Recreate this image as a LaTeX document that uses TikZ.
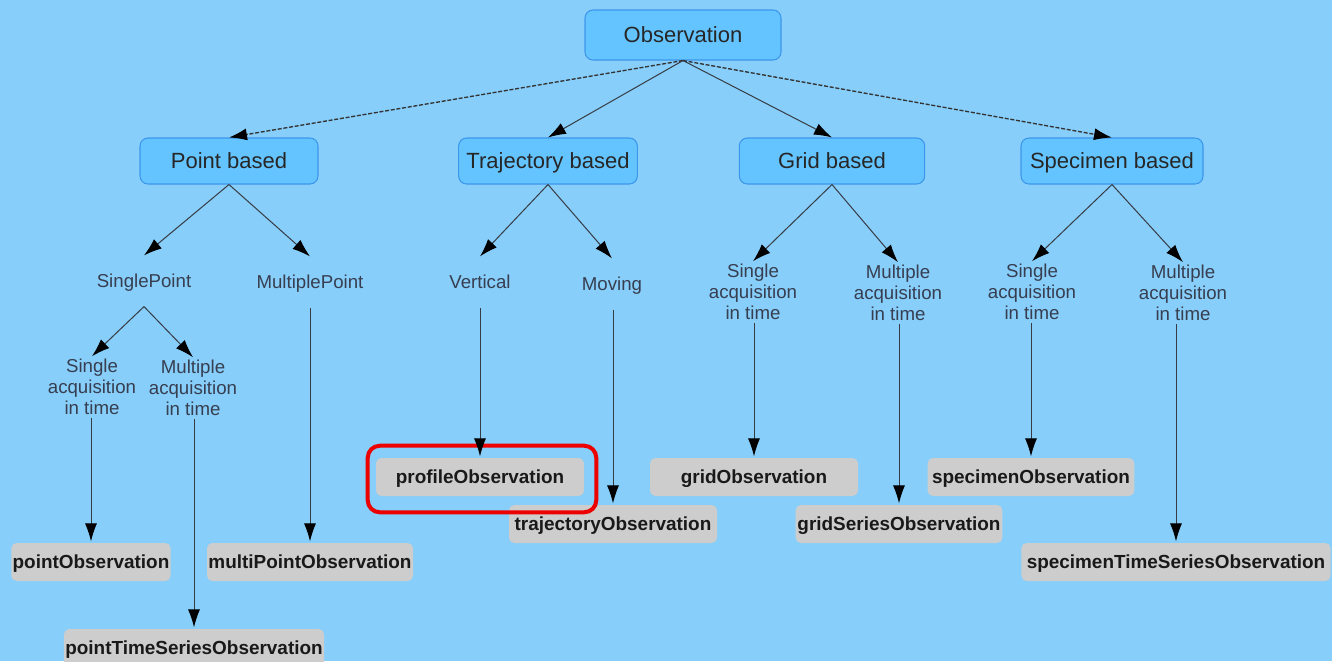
\documentclass[tikz,border=0pt]{standalone}
\usepackage{fontspec}
\setmainfont{Liberation Sans}
\usetikzlibrary{arrows.meta}

\definecolor{bgblue}{RGB}{135,206,250}
\definecolor{boxblue}{RGB}{100,196,255}
\definecolor{boxline}{RGB}{62,150,235}
\definecolor{leafgray}{RGB}{205,205,205}
\definecolor{labelgray}{RGB}{55,62,80}
\definecolor{edgegray}{RGB}{55,60,68}
\definecolor{hired}{RGB}{236,0,0}

\tikzset{
  cat/.style={draw=boxline, line width=0.8pt, fill=boxblue, rounded corners=6pt,
    minimum height=34.5pt, text height=15.5pt, text depth=3.6pt,
    text=black!85, font=\fontsize{16.5}{19}\selectfont},
  leaf/.style={fill=leafgray, rounded corners=4pt, minimum height=28.5pt,
    minimum width=#1, inner xsep=1pt, text height=13.3pt, text depth=3.1pt,
    text=black!90, font=\bfseries\fontsize{14.2}{17}\selectfont},
  lbl/.style={align=center, text=labelgray, inner sep=2pt,
    font=\fontsize{14}{15.75}\selectfont},
  word/.style={lbl, inner ysep=11pt, text height=13pt, text depth=3pt},
  arr/.style={-{Latex[length=13.5pt,width=9pt,color=black]}, draw=edgegray, line width=0.75pt},
  dash line/.style={arr, line width=1pt, draw=black!80, dash pattern=on 3pt off 1.3pt},
  hilite/.style={draw=hired, line width=3pt, rounded corners=9pt}
}

\begin{document}
\begin{tikzpicture}[x=0.75pt,y=-0.75pt]
\useasboundingbox (0,0) rectangle (1332,661);
\fill[bgblue] (0,0) rectangle (1332,661);

% categories
\node[cat, minimum width=147pt, minimum height=37.5pt] (obs) at (683,35) {Observation};
\node[cat, minimum width=133.5pt] (point) at (229,161) {Point based};
\node[cat, minimum width=134pt] (traj) at (548,161) {Trajectory based};
\node[cat, minimum width=139pt] (grid) at (832,161) {Grid based};
\node[cat, minimum width=136.5pt] (spec) at (1112,161) {Specimen based};

% sub-types
\node[word] (single) at (144,281) {SinglePoint};
\node[word] (multi) at (310,282) {MultiplePoint};
\node[lbl] (sp1) at (92,387) {Single\\acquisition\\in time};
\node[lbl] (sp2) at (193,388) {Multiple\\acquisition\\in time};
\node[word] (vert) at (480,282) {Vertical};
\node[word] (mov) at (612,284) {Moving};
\node[lbl] (g1) at (753,292) {Single\\acquisition\\in time};
\node[lbl] (g2) at (898,293) {Multiple\\acquisition\\in time};
\node[lbl] (s1) at (1032,292) {Single\\acquisition\\in time};
\node[lbl] (s2) at (1183,293) {Multiple\\acquisition\\in time};

% observation types
\node[leaf=118.5pt] (pobs) at (91,562) {pointObservation};
\node[leaf=192pt] (ptso) at (194,648) {pointTimeSeriesObservation};
\node[leaf=154.5pt] (mpo) at (310,562) {multiPointObservation};
\node[leaf=156pt] (prof) at (480,477) {profileObservation};
\node[leaf=156pt] (tobs) at (613,524) {trajectoryObservation};
\node[leaf=156pt] (gobs) at (754,477) {gridObservation};
\node[leaf=155pt] (gso) at (899,524) {gridSeriesObservation};
\node[leaf=155pt] (sobs) at (1031,477) {specimenObservation};
\node[leaf=232pt] (stso) at (1176,562) {specimenTimeSeriesObservation};

\draw[hilite] ([shift={(-8,-12)}]prof.north west) rectangle ([shift={(12,16)}]prof.south east);

% edges
\draw[dash line] (obs.south) -- (point.north);
\draw[arr] (obs.south) -- (traj.north);
\draw[arr] (obs.south) -- (grid.north);
\draw[dash line] (obs.south) -- (spec.north);

\foreach \a/\b in {point/single, point/multi, traj/vert, traj/mov,
  grid/g1, grid/g2, spec/s1, spec/s2, single/sp1, single/sp2}
  \draw[arr] (\a.south) -- (\b.north);

\foreach \a/\b in {sp1/pobs, sp2/ptso, multi/mpo, vert/prof, mov/tobs,
  g1/gobs, g2/gso, s1/sobs, s2/stso}
  \draw[arr, shorten >=1pt] (\a.south -| \b.north) -- (\b.north);

\end{tikzpicture}
\end{document}
